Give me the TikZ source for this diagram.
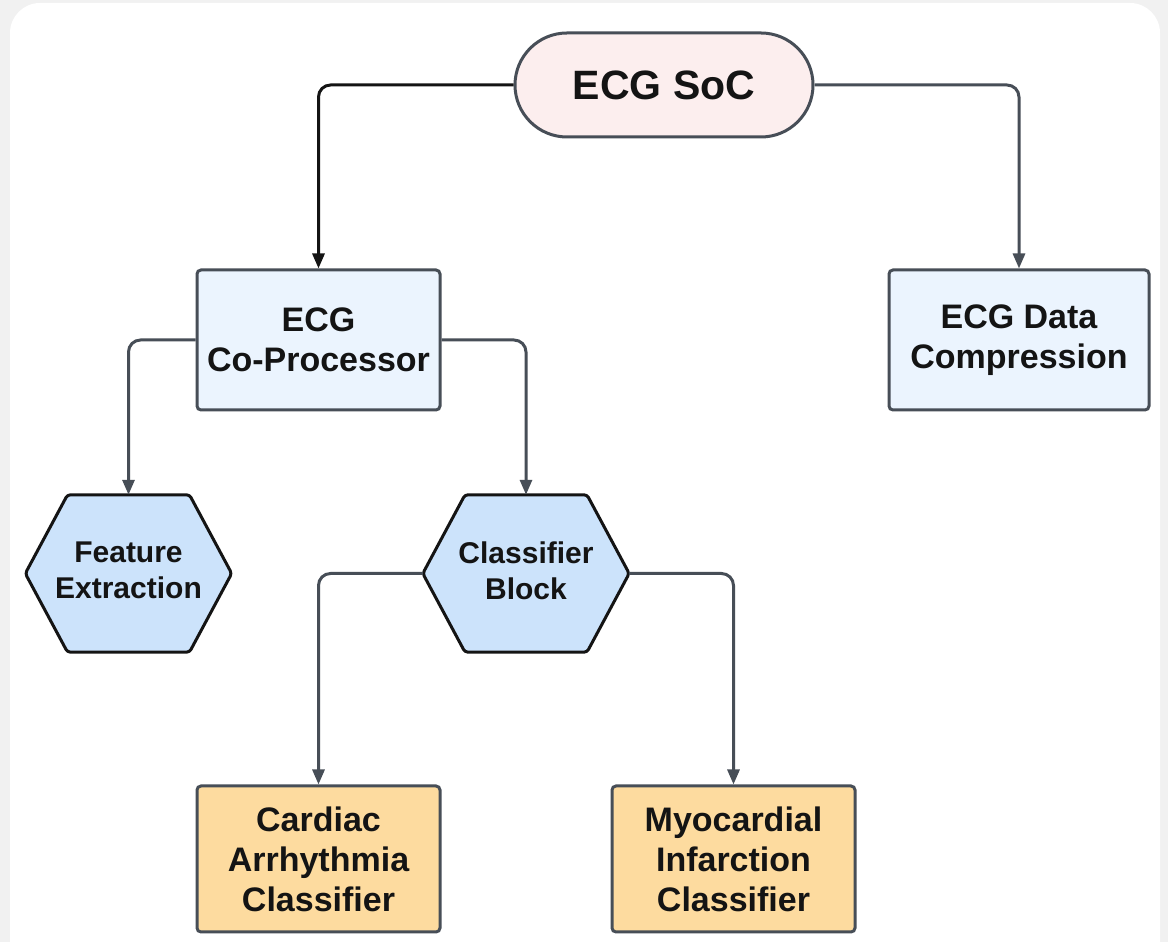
\documentclass[tikz,border=0pt]{standalone}
\usepackage{fontspec}
\setmainfont{Liberation Sans}
\usetikzlibrary{arrows.meta,shapes.misc,calc,backgrounds}

\definecolor{pagegray}{HTML}{F1F1F1}
\definecolor{edgegray}{HTML}{474E57}
\definecolor{socfill}{HTML}{FCEEEE}
\definecolor{boxfill}{HTML}{EBF4FE}
\definecolor{hexfill}{HTML}{CCE3FB}
\definecolor{leaffill}{HTML}{FDDB9F}
\definecolor{inkblack}{HTML}{141414}

\tikzset{
  titlebox/.style={rounded rectangle, draw=edgegray, line width=3pt, fill=socfill,
    minimum width=298pt, minimum height=104pt, inner sep=0pt,
    font=\bfseries\fontsize{41}{47}\selectfont, text=inkblack},
  bluebox/.style={rectangle, rounded corners=4pt, draw=edgegray, line width=3pt, fill=boxfill,
    minimum height=140pt, inner sep=0pt, align=center,
    font=\bfseries\fontsize{34}{40}\selectfont, text=inkblack},
  leafbox/.style={rectangle, rounded corners=4pt, draw=edgegray, line width=3pt, fill=leaffill,
    minimum width=243pt, minimum height=146pt, inner sep=0pt, align=center,
    font=\bfseries\fontsize{34}{40}\selectfont, text=inkblack},
  hexbox/.style={rectangle, minimum width=206pt, minimum height=157pt, inner sep=0pt,
    align=center, font=\bfseries\fontsize{30}{36}\selectfont, text=inkblack},
  hexline/.style={draw=inkblack, line width=3pt, fill=hexfill, rounded corners=3pt, line join=round},
  mainlink/.style={draw=inkblack, line width=3pt, rounded corners=12pt,
    -{Triangle[length=15pt,width=12pt]}},
  sublink/.style={draw=edgegray, line width=3pt, rounded corners=12pt,
    -{Triangle[length=15pt,width=12pt]}},
}

\begin{document}
\begin{tikzpicture}[x=1pt,y=1pt]
  \useasboundingbox (0,0) rectangle (1168,942);

  % nodes
  \node[titlebox] (soc) at (664,857) {ECG SoC};
  \node[bluebox, minimum width=243pt] (cop) at (318.5,602) {ECG\\Co-Processor};
  \node[bluebox, minimum width=260pt] (dc) at (1019,602) {ECG Data\\Compression};
  \node[hexbox] (fe) at (128.5,368.5) {};
  \node[hexbox] (cb) at (526,368.5) {};
  \node[hexbox, minimum size=0pt] (fetext) at (128.5,371.5) {Feature\\Extraction};
  \node[hexbox, minimum size=0pt] (cbtext) at (526,371.5) {Classifier\\Block};
  \node[leafbox] (ca) at (318.5,83) {Cardiac\\Arrhythmia\\Classifier};
  \node[leafbox] (mi) at (733.5,83) {Myocardial\\Infarction\\Classifier};

  % page card and hexagon outlines behind the labels
  \begin{scope}[on background layer]
    \fill[pagegray] (0,0) rectangle (1168,942);
    \fill[white, rounded corners=30pt] (10,-40) rectangle (1160,939);
    \foreach \h in {fe,cb}{
      \path[hexline] (\h.west) -- ($(\h.north)+(-61,0)$) -- ($(\h.north)+(61,0)$)
        -- (\h.east) -- ($(\h.south)+(61,0)$) -- ($(\h.south)+(-61,0)$) -- cycle;
    }
  \end{scope}

  % connectors
  \draw[mainlink] (soc.west) -| (cop.north);
  \draw[sublink] (soc.east) -| (dc.north);
  \draw[sublink] (cop.west) -| (fe.north);
  \draw[sublink] (cop.east) -| (cb.north);
  \draw[sublink] (cb.west) -| (ca.north);
  \draw[sublink] (cb.east) -| (mi.north);
\end{tikzpicture}
\end{document}
